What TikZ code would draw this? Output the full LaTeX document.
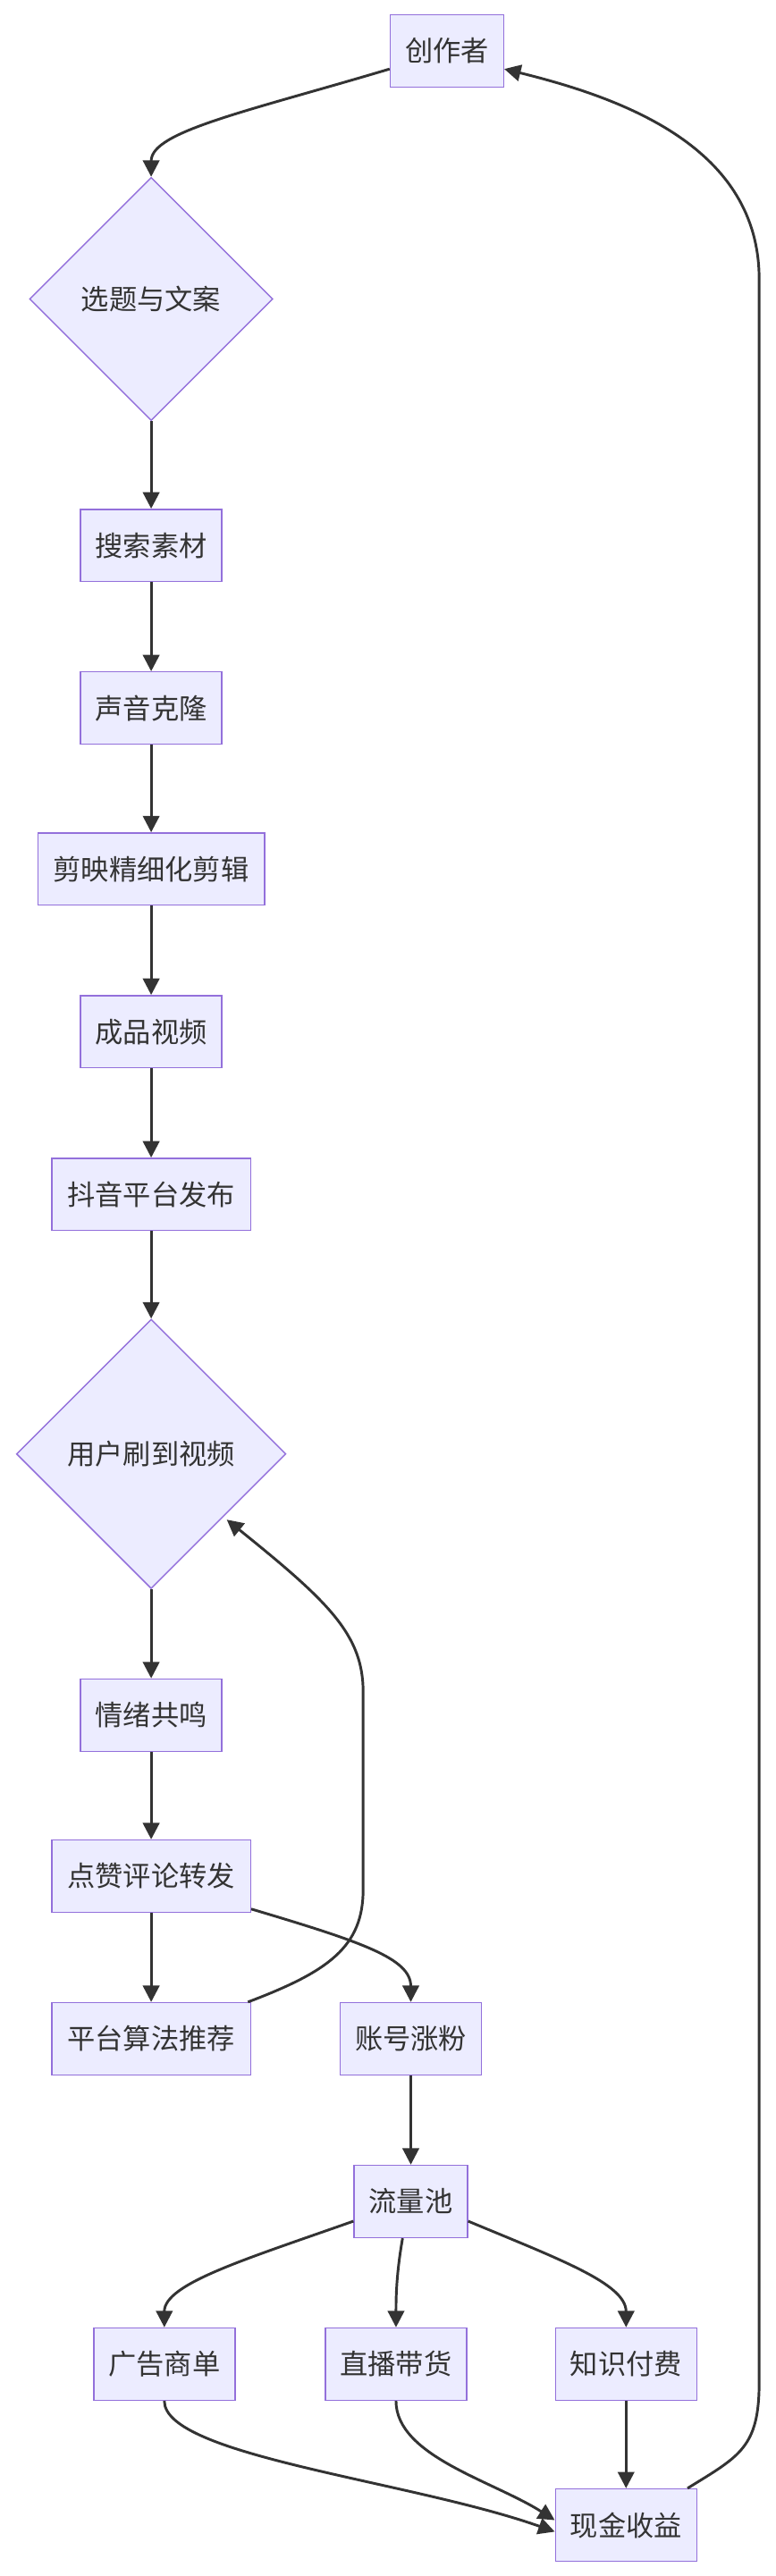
\documentclass[tikz,border=0pt]{standalone}
\usepackage{fontspec}
\setmainfont{Noto Sans CJK SC}
\usetikzlibrary{shapes.geometric,arrows.meta}
\definecolor{nfill}{HTML}{ECECFF}
\definecolor{nline}{HTML}{9370DB}
\definecolor{eline}{HTML}{333333}
\begin{document}
\begin{tikzpicture}[x=1pt,y=-1pt,
  box/.style={draw=nline,fill=nfill,line width=0.8pt,minimum height=44pt,inner xsep=8pt,font=\fontsize{17}{19}\selectfont,text=eline},
  dia/.style={draw=nline,fill=nfill,line width=0.8pt,diamond,aspect=1,inner sep=0pt,font=\fontsize{17}{19}\selectfont,text=eline},
  edge/.style={draw=eline,line width=1.6pt,-{Triangle[length=10pt,width=10pt]}}]
\fill[white] (0,0) rectangle (472,1568);
\useasboundingbox (0,0) rectangle (472,1568);
\node[box,minimum width=69pt] (c) at (272,31) {创作者};
\node[dia,minimum size=148pt] (x) at (92,182) {选题与文案};
\node[box,minimum width=86pt] (s) at (92,332) {搜索素材};
\node[box,minimum width=86pt] (v) at (92,431) {声音克隆};
\node[box,minimum width=138pt] (j) at (92,529) {剪映精细化剪辑};
\node[box,minimum width=86pt] (p) at (92,628) {成品视频};
\node[box,minimum width=121pt] (d) at (92,727) {抖音平台发布};
\node[dia,minimum size=164pt] (u) at (92,885) {用户刷到视频};
\node[box,minimum width=86pt] (q) at (92,1044) {情绪共鸣};
\node[box,minimum width=121pt] (z) at (92,1142) {点赞评论转发};
\node[box,minimum width=121pt] (a) at (92,1241) {平台算法推荐};
\node[box,minimum width=86pt] (f) at (250,1241) {账号涨粉};
\node[box,minimum width=69pt] (l) at (250,1340) {流量池};
\node[box,minimum width=86pt] (g) at (100,1439) {广告商单};
\node[box,minimum width=86pt] (b) at (241,1439) {直播带货};
\node[box,minimum width=86pt] (k) at (381,1439) {知识付费};
\node[box,minimum width=86pt] (m) at (381,1537) {现金收益};
\draw[edge] (c.west) ++(0,11) .. controls (150,68) and (92,80) .. (x.north);
\draw[edge] (x.south) -- (s.north);
\draw[edge] (s) -- (v);
\draw[edge] (v) -- (j);
\draw[edge] (j) -- (p);
\draw[edge] (p) -- (d);
\draw[edge] (d.south) -- (u.north);
\draw[edge] (u.south) -- (q.north);
\draw[edge] (q) -- (z);
\draw[edge] (z) -- (a);
\draw[edge] (z.east) ++(0,20) .. controls (220,1182) and (250,1192) .. (f.north);
\draw[edge] (a.north east) ++(-2,0) .. controls (200,1200) and (221,1185) .. (221,1150) -- (221,1030) .. controls (221,995) and (200,975) .. (138,925);
\draw[edge] (f) -- (l);
\draw[edge] (l.west) ++(0,12) .. controls (150,1375) and (100,1390) .. (g.north);
\draw[edge] (l.south) ++(-5,0) .. controls (241,1385) and (241,1400) .. (b.north);
\draw[edge] (l.east) ++(0,12) .. controls (340,1375) and (381,1390) .. (k.north);
\draw[edge] (g.south) .. controls (100,1495) and (250,1510) .. ([yshift=-4pt]m.west);
\draw[edge] (b.south) .. controls (241,1495) and (300,1510) .. ([yshift=3pt]m.west);
\draw[edge] (k) -- (m);
\draw[edge] (m.north east) ++(-6,0) .. controls (450,1495) and (462,1490) .. (462,1450) -- (462,170) .. controls (462,90) and (380,60) .. ([yshift=-11pt]c.east);
\end{tikzpicture}
\end{document}
